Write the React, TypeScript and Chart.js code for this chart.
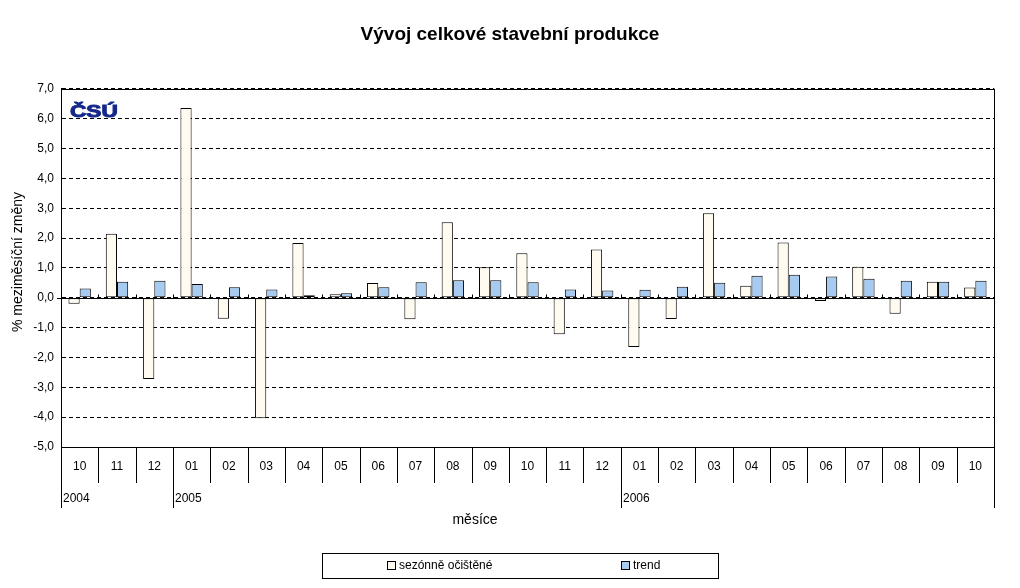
import React, { useEffect, useRef } from "react";
import { Chart, registerables } from "chart.js";

Chart.register(...registerables);

const TITLE = "Vývoj celkové stavební produkce";
const Y_TITLE = "% meziměsíční změny";
const X_TITLE = "měsíce";
const LOGO = "ČSÚ";

const months = [
  "10", "11", "12", "01", "02", "03", "04", "05", "06", "07", "08", "09", "10",
  "11", "12", "01", "02", "03", "04", "05", "06", "07", "08", "09", "10",
];
const years = ["2004", "2005", "2006"];
const yearStarts = [0, 3, 15];

const seasonal = [
  -0.2, 2.14, -2.72, 6.36, -0.7, -4.04, 1.83, 0.12, 0.49, -0.72, 2.53, 1.02, 1.49,
  -1.22, 1.62, -1.65, -0.71, 2.83, 0.4, 1.85, -0.11, 1.04, -0.54, 0.54, 0.34,
];
const trend = [
  0.31, 0.54, 0.57, 0.46, 0.35, 0.28, 0.08, 0.15, 0.35, 0.52, 0.59, 0.59, 0.52,
  0.28, 0.24, 0.27, 0.37, 0.5, 0.74, 0.77, 0.71, 0.64, 0.57, 0.54, 0.57,
];

const seriesNames = ["sezónně očištěné", "trend"];
const seriesColors = ["#FFFBF0", "#A6CAF0"];

const FONT = "'Liberation Sans', Arial, sans-serif";

const decorPlugin = {
  id: "decor",
  afterDraw(chart: any) {
    const { ctx, chartArea } = chart;
    const xs = chart.scales.x;
    const ys = chart.scales.y;
    const n = months.length;
    const step = n > 1 ? xs.getPixelForValue(1) - xs.getPixelForValue(0) : xs.width;
    const boundary = (i: number) => xs.getPixelForValue(i) - step / 2;
    const monthBottom = chartArea.bottom + 36;
    const yearBottom = chartArea.bottom + 61;
    ctx.save();
    ctx.strokeStyle = "#000";
    ctx.lineWidth = 1;
    ctx.setLineDash([]);
    // frame: top and right
    ctx.beginPath();
    ctx.moveTo(chartArea.left, Math.round(chartArea.top) + 0.5);
    ctx.lineTo(chartArea.right, Math.round(chartArea.top) + 0.5);
    ctx.moveTo(Math.round(chartArea.right) + 0.5, chartArea.top);
    ctx.lineTo(Math.round(chartArea.right) + 0.5, yearBottom);
    ctx.stroke();
    // zero line
    const y0 = Math.round(ys.getPixelForValue(0)) + 0.5;
    ctx.beginPath();
    ctx.moveTo(chartArea.left - 4, y0);
    ctx.lineTo(chartArea.right, y0);
    ctx.stroke();
    // small ticks on zero line
    ctx.beginPath();
    for (let i = 1; i < n; i++) {
      const x = Math.round(boundary(i)) + 0.5;
      ctx.moveTo(x, y0 - 4);
      ctx.lineTo(x, y0);
    }
    ctx.stroke();
    // category separators
    ctx.beginPath();
    for (let i = 0; i <= n; i++) {
      const x = Math.round(i === n ? chartArea.right : boundary(i)) + 0.5;
      const isYear = i === n || yearStarts.indexOf(i) >= 0;
      ctx.moveTo(x, chartArea.bottom);
      ctx.lineTo(x, isYear ? yearBottom : monthBottom);
    }
    ctx.stroke();
    // year labels
    ctx.fillStyle = "#000";
    ctx.font = `12px ${FONT}`;
    ctx.textAlign = "left";
    ctx.textBaseline = "middle";
    years.forEach((yr, k) => {
      const x = Math.round(boundary(yearStarts[k])) + 2;
      ctx.fillText(yr, x, chartArea.bottom + 52);
    });
    // axis titles
    ctx.font = `14px ${FONT}`;
    ctx.textAlign = "center";
    ctx.fillText(X_TITLE, 475, 520);
    ctx.save();
    ctx.translate(18, 262);
    ctx.rotate(-Math.PI / 2);
    ctx.fillText(Y_TITLE, 0, 0);
    ctx.restore();
    // logo
    ctx.save();
    ctx.translate(chartArea.left + 9, chartArea.top + 28);
    ctx.scale(1.33, 1);
    ctx.font = `900 17px ${FONT}`;
    ctx.fillStyle = "#15288a";
    ctx.strokeStyle = "#15288a";
    ctx.lineWidth = 1;
    ctx.textAlign = "left";
    ctx.textBaseline = "alphabetic";
    ctx.fillText(LOGO, 0, 0);
    ctx.strokeText(LOGO, 0, 0);
    ctx.restore();
    // legend box
    ctx.strokeStyle = "#000";
    const lx = 322, ly = 553, lw = 396, lh = 25;
    ctx.strokeRect(lx + 0.5, ly + 0.5, lw, lh);
    const itemsX = [387, 621];
    ctx.font = `12px ${FONT}`;
    ctx.textAlign = "left";
    chart.data.datasets.forEach((ds: any, k: number) => {
      const bx = itemsX[k];
      const by = ly + 8;
      ctx.fillStyle = ds.backgroundColor;
      ctx.fillRect(bx, by, 9, 9);
      ctx.strokeRect(bx + 0.5, by + 0.5, 8, 8);
      ctx.fillStyle = "#000";
      ctx.textBaseline = "middle";
      ctx.fillText(ds.label, bx + 12, by + 5);
    });
    ctx.restore();
  },
};

export default function App() {
  const ref = useRef<HTMLCanvasElement | null>(null);
  useEffect(() => {
    if (!ref.current) return;
    const chart = new Chart(ref.current, {
      type: "bar",
      data: {
        labels: months,
        datasets: [
          {
            label: seriesNames[0],
            data: seasonal,
            backgroundColor: seriesColors[0],
            borderColor: "#000",
            borderWidth: 1,
            borderSkipped: false,
            categoryPercentage: 0.6,
            barPercentage: 1.0,
          },
          {
            label: seriesNames[1],
            data: trend,
            backgroundColor: seriesColors[1],
            borderColor: "#000",
            borderWidth: 1,
            borderSkipped: false,
            categoryPercentage: 0.6,
            barPercentage: 1.0,
          },
        ],
      },
      options: {
        responsive: false,
        animation: false,
        devicePixelRatio: 1,
        layout: { padding: { left: 0, right: 0, top: 0, bottom: 0 } },
        plugins: {
          legend: { display: false },
          tooltip: { enabled: false },
          title: {
            display: true,
            text: TITLE,
            color: "#000",
            font: { family: FONT, size: 19, weight: "bold" },
            padding: { top: 23, bottom: 43 },
          },
        },
        scales: {
          x: {
            grid: { display: false, drawTicks: false },
            border: { display: true, color: "#000", width: 1 },
            ticks: {
              color: "#000",
              font: { family: FONT, size: 12 },
              padding: 12,
              maxRotation: 0,
              autoSkip: false,
            },
            afterFit: (s: any) => {
              s.height = 141;
            },
          },
          y: {
            min: -5,
            max: 7,
            ticks: {
              stepSize: 1,
              color: "#000",
              font: { family: FONT, size: 12 },
              padding: 7,
              callback: (v: any) => Number(v).toFixed(1).replace(".", ","),
            },
            grid: { color: "#000", lineWidth: 1, drawTicks: false },
            border: { display: true, color: "#000", width: 1, dash: [4, 3] },
            afterFit: (s: any) => {
              s.width = 61;
            },
          },
          yRight: {
            position: "right",
            min: -5,
            max: 7,
            ticks: { display: false },
            grid: { display: false, drawTicks: false },
            border: { display: false },
            afterFit: (s: any) => {
              s.width = 26;
            },
          },
        },
      },
      plugins: [decorPlugin],
    } as any);
    return () => chart.destroy();
  }, []);
  return (
    <div style={{ position: "absolute", left: 0, top: 0, width: 1020, height: 588, background: "#fff" }}>
      <canvas ref={ref} width={1020} height={588} />
    </div>
  );
}
